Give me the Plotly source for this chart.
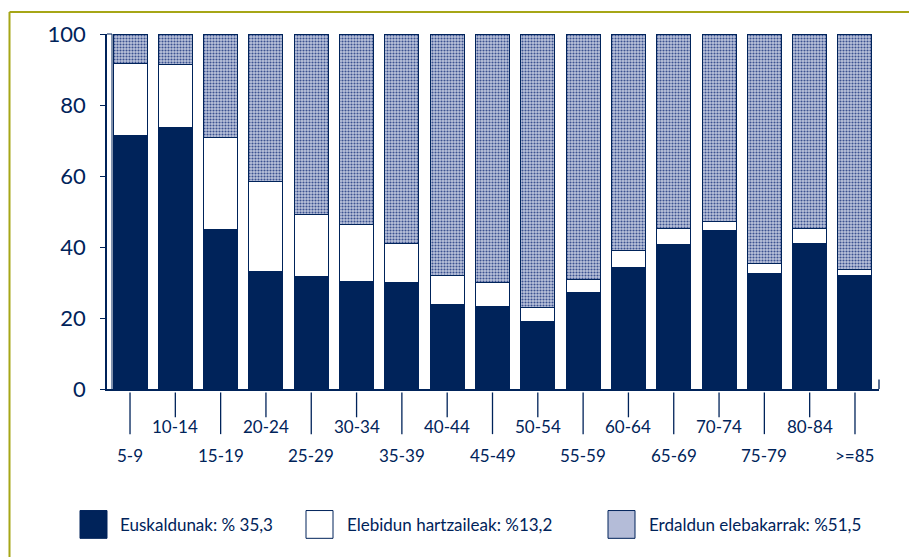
import plotly.graph_objects as go

categories = ["5-9", "10-14", "15-19", "20-24", "25-29", "30-34", "35-39", "40-44",
              "45-49", "50-54", "55-59", "60-64", "65-69", "70-74", "75-79", "80-84", ">=85"]
euskaldunak = [71.3, 73.7, 44.8, 33.2, 31.7, 30.4, 29.9, 23.8, 23.3, 19.1, 27.1, 34.3, 40.6, 44.6, 32.5, 40.9, 31.9]
elebidun = [20.4, 17.6, 26.0, 25.2, 17.5, 15.8, 11.2, 8.1, 6.6, 4.0, 3.7, 4.7, 4.6, 2.5, 2.8, 4.3, 1.9]
erdaldun = [round(100 - a - b, 1) for a, b in zip(euskaldunak, elebidun)]
y_ticks = [0, 20, 40, 60, 80, 100]
legend_labels = ["Euskaldunak: % 35,3", "Elebidun hartzaileak: %13,2", "Erdaldun elebakarrak: %51,5"]

NAVY = "#00235a"
FONT = "Lato"
x = list(range(len(categories)))

fig = go.Figure()
fig.add_trace(go.Bar(x=x, y=euskaldunak, name=legend_labels[0], width=0.75,
                     marker=dict(color=NAVY, line=dict(color=NAVY, width=1))))
fig.add_trace(go.Bar(x=x, y=elebidun, name=legend_labels[1], width=0.75,
                     marker=dict(color="white", line=dict(color=NAVY, width=1))))
fig.add_trace(go.Bar(x=x, y=erdaldun, name=legend_labels[2], width=0.75,
                     marker=dict(color="#aab3d2", line=dict(color=NAVY, width=1),
                                 pattern=dict(shape=".", fgcolor="#3b5290", bgcolor="#bcc4dc",
                                              size=3, solidity=0.4, fillmode="replace"))))

D = 8  # page body margin offset
W, H = 917, 557
# target pixel geometry in the screenshot
X0, X1 = 107, 879      # x-axis extent
Y100, Y0 = 31.7, 389.5  # y positions of 100 and 0
L = X0 - D
T = Y100 - D
R = W - (X1 - D)
B = H - (Y0 - D)
pw = X1 - X0
ph = Y0 - Y100

def py(pix):
    return (Y0 - pix) / ph

def px(pix):
    return (pix - X0) / pw

shapes = []
annotations = []
# x-axis ticks below (long for lower-row labels, short for upper-row labels)
for i, c in enumerate(categories):
    lower = (i % 2 == 0)
    shapes.append(dict(type="line", xref="x", yref="paper", x0=i, x1=i,
                       y0=py(393), y1=py(435 if lower else 418),
                       line=dict(color=NAVY, width=1.3)))
    annotations.append(dict(xref="x", yref="paper", x=i, y=py(457 if lower else 427),
                            text=c, showarrow=False, xanchor="center", yanchor="middle",
                            font=dict(family=FONT, size=17, color=NAVY)))
# inner frame line near y-axis and top cap
shapes.append(dict(type="line", xref="paper", yref="paper", x0=px(112), x1=px(112),
                   y0=0, y1=1, line=dict(color=NAVY, width=1)))
shapes.append(dict(type="line", xref="paper", yref="paper", x0=0, x1=px(112),
                   y0=1, y1=1, line=dict(color=NAVY, width=1)))
# right end tick of x axis
shapes.append(dict(type="line", xref="paper", yref="paper", x0=1, x1=1,
                   y0=0, y1=py(380), line=dict(color=NAVY, width=1.3)))
# outer olive border (left and top)
BX, BY = D + 1.5, D + 1.5
shapes.append(dict(type="line", xref="paper", yref="paper", x0=px(BX), x1=px(BX),
                   y0=py(BY), y1=py(570), line=dict(color="#a6a617", width=2)))
shapes.append(dict(type="line", xref="paper", yref="paper", x0=px(BX), x1=px(930),
                   y0=py(BY), y1=py(BY), line=dict(color="#a6a617", width=2)))

# legend
sw_x = [80, 306, 608]
tx_x = [118, 345, 647]
fills = [NAVY, "white", "#b4bcd8"]
for k in range(3):
    shapes.append(dict(type="rect", xref="paper", yref="paper",
                       x0=px(sw_x[k]), x1=px(sw_x[k] + 27), y0=py(540), y1=py(512),
                       fillcolor=fills[k], line=dict(color=NAVY, width=1)))
    annotations.append(dict(xref="paper", yref="paper", x=px(tx_x[k]), y=py(526),
                            text=legend_labels[k], showarrow=False, xanchor="left",
                            yanchor="middle", font=dict(family=FONT, size=17, color=NAVY)))

fig.update_layout(
    barmode="stack",
    width=W, height=H,
    margin=dict(l=L, r=R, t=T, b=B, pad=0),
    paper_bgcolor="white", plot_bgcolor="white",
    showlegend=False,
    bargap=0.25,
    shapes=shapes,
    annotations=annotations,
    xaxis=dict(range=[-0.508, 16.53], showticklabels=False, ticks="", showgrid=False,
               zeroline=False, showline=True, linecolor=NAVY, linewidth=1.5, fixedrange=True),
    yaxis=dict(range=[0, 100], tickvals=y_ticks, ticks="outside", ticklen=5, tickcolor=NAVY,
               showgrid=False, zeroline=False, showline=True, linecolor=NAVY, linewidth=1.5,
               tickfont=dict(family=FONT, size=22, color=NAVY), ticklabelstandoff=10,
               fixedrange=True),
)

fig.write_html("out.html")
